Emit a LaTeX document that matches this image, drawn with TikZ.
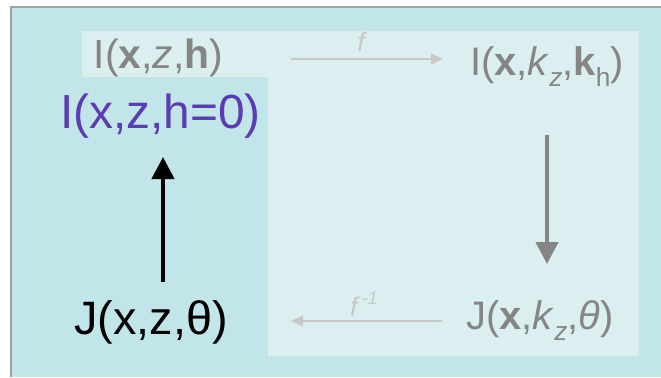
\documentclass[tikz,border=0pt]{standalone}
\usepackage{fontspec}
\setmainfont{Liberation Sans}
\usetikzlibrary{arrows.meta}
\definecolor{outerfill}{HTML}{C1E5E8}
\definecolor{innerfill}{HTML}{DBEFF1}
\definecolor{framegray}{HTML}{A0A0A0}
\definecolor{labgray}{HTML}{858585}
\definecolor{faint}{HTML}{C8C8C8}
\definecolor{purp}{HTML}{5B3DB3}
\newcommand{\lowsub}[1]{\raisebox{-0.3em}{\fontsize{0.66em}{0.7em}\selectfont #1}}
\tikzset{
  lab/.style={anchor=base, inner sep=0pt, outer sep=0pt},
  faintarrow/.style={draw=faint, line width=1.1bp, -{Triangle[width=11bp,length=12bp]}},
  bigarrow/.style={line width=4.2bp, -{Triangle[width=22bp,length=22bp]}},
}
\begin{document}
\begin{tikzpicture}[x=1bp,y=-1bp]
\useasboundingbox (0,0) rectangle (661,377);
\fill[white] (0,0) rectangle (661,377);
\fill[outerfill] (11,7) rectangle (661,377);
\draw[framegray, line width=1.3bp] (11,377) -- (11,7) -- (661,7);
\fill[innerfill] (82,31) -- (639,31) -- (639,356) -- (268,356) -- (268,77) -- (82,77) -- cycle;
% labels
\node[lab, text=labgray, font=\fontsize{41}{46}\selectfont] (ixzh) at (158.5,68) {I(\textbf{x},\textit{z},\textbf{h})};
\node[lab, text=purp, font=\fontsize{48}{54}\selectfont] (ih0) at (160.5,128) {I(x,z,h=0)};
\node[lab, text=black, font=\fontsize{47}{52}\selectfont] (jxz) at (151,334) {J(x,z,θ)};
\node[lab, text=labgray, font=\fontsize{40}{45}\selectfont] (ikk) at (547,75) {I(\textbf{x},\textit{k}\lowsub{\textit{z}},\textbf{k}\lowsub{h})};
\node[lab, text=labgray, font=\fontsize{40}{45}\selectfont] (jkt) at (540,329) {J(\textbf{x},\textit{k}\lowsub{\textit{z}},\textit{θ})};
% arrow coordinates
\coordinate (fA) at (291,59);
\coordinate (fB) at (443,59);
\coordinate (gA) at (442,321);
\coordinate (gB) at (291,321);
\coordinate (upA) at (163,282);
\coordinate (upB) at (163,157);
\coordinate (dnA) at (547,135);
\coordinate (dnB) at (547,264);
\draw[faintarrow] (fA) -- (fB);
\draw[faintarrow] (gA) -- (gB);
\node[lab, text=faint, font=\fontsize{27}{30}\selectfont\itshape] (flab) at (361,51) {f};
\node[lab, text=faint, font=\fontsize{27}{30}\selectfont\itshape] (finv) at (364,316) {f\,\raisebox{0.42em}{\fontsize{18}{20}\selectfont -1}};
\draw[bigarrow, black] (upA) -- (upB);
\draw[bigarrow, draw=labgray, fill=labgray] (dnA) -- (dnB);
\end{tikzpicture}
\end{document}
